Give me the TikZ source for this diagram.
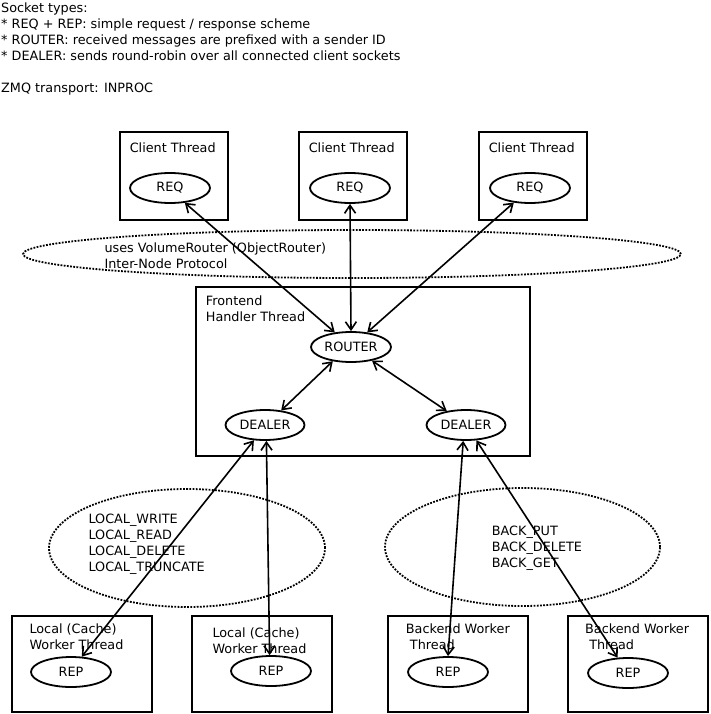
\documentclass[tikz,border=0pt]{standalone}
\usepackage{fontspec}
\setmainfont{DejaVu Sans}
\usetikzlibrary{
    positioning,                      % right=of, below=of, etc.
    arrows.meta,                      % Straight Barb
    shapes.geometric                  % ellipse
}
\tikzset{
    thread/.style={
        rectangle, draw, line width=2pt,
        inner sep=0pt
    },
    sock/.style={
        ellipse, draw, line width=1.8pt,
        minimum width=80pt, minimum height=30pt,
        inner sep=0pt
    },
    cloud/.style={
        ellipse, draw, line width=1.8pt,
        dash pattern=on 1.8pt off 1.4pt,
        inner sep=0pt
    },
    link/.style={
        {Straight Barb[length=8pt,width=11pt]}-{Straight Barb[length=8pt,width=11pt]},
        line width=1.6pt
    },
    note/.style={
        anchor=base west, align=left, inner sep=0pt
    }
}

\begin{document}
\begin{tikzpicture}[
        x=1pt, y=-1pt,
        every node/.style={font=\fontsize{12.8}{16}\selectfont}
    ]
    \useasboundingbox (0,0) rectangle (710,714);

    % --- Leyenda (base = ultima linea) ---
    \node[note] (legend) at (1,92.3) {Socket types:\\
        * REQ + REP: simple request / response scheme\\
        * ROUTER: received messages are prefixed with a sender ID\\
        * DEALER: sends round-robin over all connected client sockets\\
        \\
        ZMQ transport: INPROC};

    % --- Zonas de protocolo (punteadas) ---
    \node[cloud, minimum width=658pt, minimum height=48pt] (internode) at (352,254) {};
    \node[note] (internode_txt) at (104.3,268.3) {uses VolumeRouter (ObjectRouter)\\Inter-Node Protocol};

    \node[cloud, minimum width=276pt, minimum height=118pt] (localzone) at (187,548) {};
    \node[note] (localzone_txt) at (88.3,571.3) {LOCAL\_WRITE\\LOCAL\_READ\\LOCAL\_DELETE\\LOCAL\_TRUNCATE};

    \node[cloud, minimum width=275pt, minimum height=118pt] (backzone) at (522.5,547) {};
    \node[note] (backzone_txt) at (491.7,567.3) {BACK\_PUT\\BACK\_DELETE\\BACK\_GET};

    % --- Hilos cliente ---
    \foreach \name/\x in {client1/174, client2/353, client3/533} {
        \node[thread, minimum width=108pt, minimum height=88pt] (\name) at (\x,176) {};
        \node[note] at ([shift={(10.6,21.7)}]\name.north west) {Client Thread};
    }
    \node[sock] (req1) at (170,188) {REQ};
    \node[sock] (req2) at (350,188) {REQ};
    \node[sock] (req3) at (530,188) {REQ};

    % --- Frontend ---
    \node[thread, minimum width=334pt, minimum height=169pt] (frontend) at (363,371.5) {};
    \node[note] (frontend_txt) at (205.7,321.7) {Frontend\\Handler Thread};
    \node[sock] (router) at (351,347) {ROUTER};
    \node[sock, minimum width=79pt] (dealerL) at (265,425) {DEALER};
    \node[sock, minimum width=79pt] (dealerR) at (466,425) {DEALER};

    % --- Hilos trabajadores ---
    \node[thread, minimum width=140pt, minimum height=96pt] (local1) at (82,664) {};
    \node[thread, minimum width=140pt, minimum height=96pt] (local2) at (262,664) {};
    \node[thread, minimum width=140pt, minimum height=96pt] (back1)  at (458,664) {};
    \node[thread, minimum width=140pt, minimum height=96pt] (back2)  at (638,664) {};

    \node[note] at (29.3,649.3)  {Local (Cache)\\Worker Thread};
    \node[note] at (212.3,653.3) {Local (Cache)\\Worker Thread};
    \node[note] at (405.7,649.3) {Backend Worker\\\ Thread};
    \node[note] at (585,649.3)   {Backend Worker\\\ Thread};

    \node[sock] (rep1) at (71,672)  {REP};
    \node[sock] (rep2) at (271,671) {REP};
    \node[sock] (rep3) at (448,672) {REP};
    \node[sock] (rep4) at (628,673) {REP};

    % --- Conexiones ---
    \draw[link] (req1.-45)   -- (router.138);
    \draw[link] (req2.south) -- (router.north);
    \draw[link] (req3.-138)  -- (router.42);
    \draw[link] (router.-142) -- (dealerL.42);
    \draw[link] (router.-33)  -- (dealerR.144);
    \draw[link] (dealerL.-126) -- (rep1.55);
    \draw[link] (dealerL.-85)  -- (rep2.95);
    \draw[link] (dealerR.-100) -- (rep3.90);
    \draw[link] (dealerR.-56)  -- (rep4.124);

\end{tikzpicture}
\end{document}
